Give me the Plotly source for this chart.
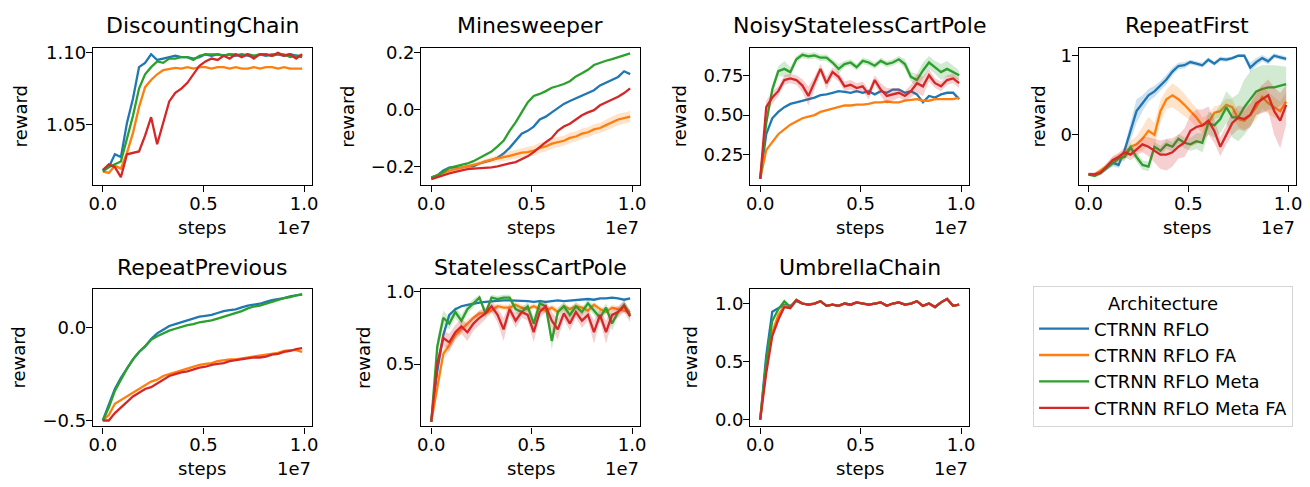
import plotly.graph_objects as go

# ---------------- data ----------------
STEPS = [0, 300000, 600000, 900000, 1200000, 1500000, 1800000, 2100000, 2400000,
         2700000, 3000000, 3300000, 3600000, 3900000, 4200000, 4500000, 4800000,
         5100000, 5400000, 5700000, 6000000, 6300000, 6600000, 6900000, 7200000,
         7500000, 7800000, 8100000, 8400000, 8700000, 9000000, 9300000, 9600000, 9900000]

SERIES_NAMES = ["CTRNN RFLO", "CTRNN RFLO FA", "CTRNN RFLO Meta", "CTRNN RFLO Meta FA"]
PANEL_TITLES = ["DiscountingChain", "Minesweeper", "NoisyStatelessCartPole", "RepeatFirst",
                "RepeatPrevious", "StatelessCartPole", "UmbrellaChain"]

# DiscountingChain
DC_BLUE = [1.018, 1.020, 1.029, 1.027, 1.051, 1.068, 1.090, 1.093, 1.099, 1.095, 1.096, 1.097,
           1.098, 1.097, 1.097, 1.096, 1.097, 1.099, 1.098, 1.099, 1.098, 1.099, 1.098, 1.099,
           1.098, 1.097, 1.099, 1.098, 1.099, 1.099, 1.098, 1.099, 1.098, 1.097]
DC_ORANGE = [1.017, 1.016, 1.021, 1.019, 1.030, 1.044, 1.062, 1.076, 1.081, 1.085, 1.088, 1.089,
             1.0895, 1.089, 1.090, 1.089, 1.090, 1.090, 1.089, 1.090, 1.090, 1.089, 1.090, 1.089,
             1.089, 1.090, 1.089, 1.090, 1.090, 1.089, 1.090, 1.089, 1.089, 1.089]
DC_GREEN = [1.017, 1.020, 1.022, 1.024, 1.040, 1.056, 1.075, 1.085, 1.090, 1.094, 1.093, 1.096,
            1.096, 1.097, 1.097, 1.095, 1.098, 1.099, 1.099, 1.099, 1.098, 1.099, 1.099, 1.098,
            1.099, 1.098, 1.099, 1.099, 1.098, 1.099, 1.099, 1.097, 1.098, 1.098]
DC_RED = [1.018, 1.022, 1.020, 1.013, 1.029, 1.030, 1.031, 1.042, 1.055, 1.036, 1.052, 1.066,
          1.072, 1.075, 1.079, 1.085, 1.091, 1.094, 1.096, 1.095, 1.098, 1.096, 1.099, 1.097,
          1.099, 1.096, 1.099, 1.099, 1.098, 1.100, 1.098, 1.099, 1.096, 1.099]

# Minesweeper
MS_BLUE = [-0.240, -0.232, -0.215, -0.205, -0.205, -0.205, -0.200, -0.200, -0.190, -0.185, -0.178,
           -0.170, -0.155, -0.135, -0.110, -0.085, -0.075, -0.060, -0.035, -0.025, -0.010, 0.005,
           0.020, 0.030, 0.040, 0.050, 0.060, 0.068, 0.085, 0.095, 0.105, 0.115, 0.135, 0.125]
MS_ORANGE = [-0.240, -0.232, -0.222, -0.215, -0.210, -0.205, -0.200, -0.195, -0.190, -0.182, -0.178,
             -0.172, -0.168, -0.163, -0.158, -0.152, -0.150, -0.145, -0.135, -0.130, -0.120, -0.115,
             -0.110, -0.100, -0.095, -0.085, -0.080, -0.070, -0.065, -0.055, -0.045, -0.035, -0.030, -0.025]
MS_ORANGE_SD = [0.004, 0.004, 0.005, 0.005, 0.005, 0.006, 0.006, 0.007, 0.008, 0.008, 0.010, 0.012,
                0.014, 0.016, 0.016, 0.017, 0.018, 0.018, 0.018, 0.018, 0.018, 0.018, 0.018, 0.018,
                0.018, 0.018, 0.018, 0.018, 0.018, 0.020, 0.020, 0.020, 0.020, 0.020]
MS_GREEN = [-0.240, -0.232, -0.220, -0.205, -0.200, -0.195, -0.190, -0.182, -0.170, -0.160, -0.148,
            -0.130, -0.110, -0.075, -0.045, -0.010, 0.025, 0.048, 0.055, 0.065, 0.077, 0.083,
            0.090, 0.100, 0.117, 0.128, 0.140, 0.157, 0.165, 0.172, 0.178, 0.185, 0.190, 0.198]
MS_RED = [-0.245, -0.238, -0.230, -0.225, -0.220, -0.215, -0.210, -0.208, -0.207, -0.205, -0.204,
          -0.200, -0.196, -0.190, -0.185, -0.175, -0.165, -0.150, -0.132, -0.115, -0.100, -0.075,
          -0.060, -0.050, -0.035, -0.020, -0.010, -0.002, 0.015, 0.025, 0.035, 0.045, 0.058, 0.075]

# NoisyStatelessCartPole
NSCP_BLUE = [0.10, 0.38, 0.48, 0.52, 0.55, 0.57, 0.58, 0.59, 0.60, 0.61, 0.625, 0.63, 0.64, 0.65,
             0.645, 0.64, 0.65, 0.64, 0.65, 0.63, 0.65, 0.64, 0.66, 0.66, 0.64, 0.65, 0.63, 0.58,
             0.62, 0.61, 0.63, 0.64, 0.64, 0.60]
NSCP_ORANGE = [0.10, 0.28, 0.33, 0.38, 0.41, 0.44, 0.46, 0.48, 0.49, 0.50, 0.52, 0.53, 0.54, 0.55,
               0.56, 0.56, 0.565, 0.565, 0.57, 0.58, 0.58, 0.585, 0.58, 0.58, 0.59, 0.595, 0.60,
               0.59, 0.59, 0.60, 0.60, 0.60, 0.60, 0.61]
NSCP_GREEN = [0.10, 0.45, 0.66, 0.776, 0.79, 0.77, 0.85, 0.878, 0.868, 0.875, 0.86, 0.86, 0.83, 0.79,
              0.82, 0.83, 0.80, 0.84, 0.83, 0.81, 0.84, 0.82, 0.83, 0.85, 0.82, 0.74, 0.72, 0.78,
              0.83, 0.80, 0.77, 0.79, 0.77, 0.75]
NSCP_GREEN_SD = [0.0, 0.03, 0.03, 0.03, 0.05, 0.03, 0.02, 0.02, 0.02, 0.02, 0.02, 0.02, 0.02, 0.03,
                 0.02, 0.02, 0.02, 0.02, 0.02, 0.02, 0.02, 0.02, 0.02, 0.02, 0.03, 0.03, 0.04, 0.05,
                 0.04, 0.04, 0.05, 0.05, 0.04, 0.03]
NSCP_RED = [0.10, 0.55, 0.61, 0.65, 0.72, 0.73, 0.72, 0.685, 0.62, 0.70, 0.79, 0.70, 0.77, 0.74,
            0.68, 0.69, 0.67, 0.68, 0.63, 0.72, 0.66, 0.62, 0.63, 0.64, 0.62, 0.65, 0.70, 0.68,
            0.75, 0.70, 0.68, 0.72, 0.73, 0.70]
NSCP_RED_SD = [0.0, 0.04, 0.04, 0.03, 0.03, 0.03, 0.03, 0.04, 0.06, 0.04, 0.03, 0.04, 0.03, 0.03,
               0.03, 0.03, 0.03, 0.03, 0.03, 0.03, 0.04, 0.05, 0.04, 0.03, 0.03, 0.04, 0.06, 0.06,
               0.04, 0.03, 0.03, 0.03, 0.03, 0.03]

# RepeatFirst
RF_BLUE = [-0.50, -0.50, -0.48, -0.42, -0.35, -0.38, -0.20, 0.05, 0.30, 0.40, 0.50, 0.55, 0.62, 0.70,
           0.80, 0.87, 0.88, 0.92, 0.90, 0.88, 0.95, 0.90, 0.96, 0.95, 0.97, 1.00, 1.00, 0.85, 0.92,
           0.97, 0.93, 1.00, 0.98, 0.96]
RF_BLUE_SD = [0.02, 0.02, 0.02, 0.03, 0.05, 0.04, 0.06, 0.12, 0.15, 0.10, 0.08, 0.07, 0.06, 0.06,
              0.05, 0.04, 0.04, 0.03, 0.03, 0.03, 0.03, 0.03, 0.03, 0.03, 0.02, 0.02, 0.02, 0.06,
              0.05, 0.04, 0.04, 0.03, 0.03, 0.03]
RF_ORANGE = [-0.50, -0.50, -0.45, -0.40, -0.33, -0.28, -0.25, -0.15, -0.12, -0.05, 0.05, 0.00, 0.30,
             0.45, 0.50, 0.45, 0.38, 0.30, 0.22, 0.12, 0.15, 0.28, 0.30, 0.38, 0.35, 0.20, 0.18,
             0.25, 0.35, 0.48, 0.40, 0.35, 0.30, 0.42]
RF_ORANGE_SD = [0.02, 0.02, 0.03, 0.04, 0.05, 0.05, 0.06, 0.08, 0.10, 0.15, 0.18, 0.15, 0.14, 0.12,
                0.15, 0.15, 0.14, 0.12, 0.12, 0.10, 0.10, 0.08, 0.08, 0.08, 0.10, 0.10, 0.12, 0.14,
                0.15, 0.15, 0.14, 0.13, 0.12, 0.12]
RF_GREEN = [-0.50, -0.52, -0.48, -0.42, -0.35, -0.30, -0.28, -0.16, -0.28, -0.38, -0.40, -0.15, -0.20,
            -0.12, -0.15, -0.05, -0.10, -0.12, -0.08, -0.10, 0.15, 0.12, 0.20, 0.35, 0.22, 0.22,
            0.35, 0.45, 0.55, 0.58, 0.60, 0.60, 0.62, 0.64]
RF_GREEN_SD = [0.02, 0.02, 0.03, 0.03, 0.04, 0.04, 0.05, 0.06, 0.06, 0.06, 0.06, 0.06, 0.06, 0.06,
               0.06, 0.06, 0.07, 0.08, 0.10, 0.12, 0.14, 0.15, 0.18, 0.20, 0.25, 0.30, 0.35, 0.35,
               0.30, 0.30, 0.28, 0.28, 0.25, 0.22]
RF_RED = [-0.50, -0.50, -0.48, -0.40, -0.32, -0.28, -0.22, -0.25, -0.18, -0.12, -0.15, -0.20, -0.25,
          -0.25, -0.22, -0.15, -0.10, 0.05, 0.10, 0.12, 0.18, 0.05, -0.15, 0.00, 0.15, 0.22, 0.20,
          0.25, 0.40, 0.45, 0.50, 0.30, 0.18, 0.38]
RF_RED_SD = [0.02, 0.02, 0.03, 0.04, 0.05, 0.05, 0.06, 0.07, 0.08, 0.10, 0.12, 0.15, 0.18, 0.20,
             0.18, 0.15, 0.18, 0.20, 0.22, 0.20, 0.18, 0.15, 0.12, 0.12, 0.15, 0.15, 0.15, 0.15,
             0.15, 0.18, 0.20, 0.30, 0.35, 0.25]

# RepeatPrevious
RP_BLUE = [-0.50, -0.42, -0.33, -0.27, -0.22, -0.17, -0.13, -0.10, -0.06, -0.03, -0.01, 0.01, 0.02,
           0.03, 0.04, 0.05, 0.06, 0.065, 0.07, 0.08, 0.09, 0.095, 0.10, 0.11, 0.12, 0.125, 0.13,
           0.14, 0.15, 0.155, 0.16, 0.17, 0.175, 0.18]
RP_ORANGE = [-0.50, -0.47, -0.41, -0.39, -0.37, -0.35, -0.33, -0.31, -0.29, -0.28, -0.26, -0.25,
             -0.24, -0.23, -0.22, -0.21, -0.20, -0.195, -0.19, -0.18, -0.175, -0.17, -0.17, -0.165,
             -0.16, -0.155, -0.15, -0.145, -0.14, -0.135, -0.125, -0.12, -0.12, -0.13]
RP_GREEN = [-0.50, -0.43, -0.34, -0.28, -0.22, -0.17, -0.13, -0.10, -0.065, -0.045, -0.03, -0.015,
            -0.005, 0.005, 0.015, 0.02, 0.03, 0.035, 0.04, 0.05, 0.06, 0.07, 0.08, 0.09, 0.105,
            0.115, 0.12, 0.13, 0.14, 0.15, 0.16, 0.165, 0.175, 0.18]
RP_RED = [-0.50, -0.50, -0.46, -0.43, -0.40, -0.37, -0.35, -0.33, -0.32, -0.30, -0.28, -0.26, -0.25,
          -0.24, -0.235, -0.225, -0.215, -0.21, -0.20, -0.195, -0.19, -0.18, -0.175, -0.17, -0.165,
          -0.16, -0.16, -0.155, -0.145, -0.14, -0.13, -0.125, -0.115, -0.11]

# StatelessCartPole
SCP_BLUE = [0.10, 0.45, 0.70, 0.84, 0.88, 0.90, 0.91, 0.92, 0.925, 0.93, 0.935, 0.935, 0.94, 0.94,
            0.94, 0.935, 0.935, 0.93, 0.935, 0.93, 0.935, 0.94, 0.935, 0.94, 0.945, 0.945, 0.95,
            0.945, 0.955, 0.955, 0.96, 0.955, 0.945, 0.955]
SCP_ORANGE = [0.10, 0.35, 0.57, 0.63, 0.70, 0.74, 0.78, 0.82, 0.85, 0.85, 0.87, 0.90, 0.89, 0.89,
              0.91, 0.89, 0.88, 0.90, 0.88, 0.87, 0.89, 0.86, 0.90, 0.88, 0.90, 0.89, 0.87, 0.91,
              0.88, 0.86, 0.89, 0.88, 0.87, 0.86]
SCP_ORANGE_SD = [0.0, 0.04, 0.04, 0.04, 0.03, 0.03, 0.03, 0.02, 0.02, 0.02, 0.02, 0.02, 0.02, 0.02,
                 0.02, 0.02, 0.02, 0.02, 0.02, 0.02, 0.02, 0.03, 0.02, 0.02, 0.02, 0.02, 0.02, 0.02,
                 0.02, 0.02, 0.02, 0.02, 0.02, 0.02]
SCP_GREEN = [0.10, 0.62, 0.82, 0.78, 0.86, 0.80, 0.88, 0.92, 0.96, 0.85, 0.96, 0.95, 0.96, 0.96,
             0.88, 0.86, 0.90, 0.78, 0.92, 0.90, 0.66, 0.86, 0.90, 0.84, 0.90, 0.86, 0.92, 0.87,
             0.82, 0.89, 0.78, 0.86, 0.91, 0.84]
SCP_GREEN_SD = [0.0, 0.06, 0.05, 0.04, 0.04, 0.04, 0.03, 0.03, 0.02, 0.03, 0.02, 0.02, 0.02, 0.02,
                0.03, 0.03, 0.03, 0.05, 0.03, 0.03, 0.06, 0.03, 0.03, 0.04, 0.03, 0.03, 0.03, 0.03,
                0.04, 0.03, 0.05, 0.03, 0.03, 0.03]
SCP_RED = [0.10, 0.50, 0.68, 0.65, 0.72, 0.76, 0.72, 0.78, 0.82, 0.85, 0.90, 0.84, 0.74, 0.88, 0.80,
           0.86, 0.84, 0.72, 0.86, 0.90, 0.80, 0.74, 0.85, 0.78, 0.86, 0.80, 0.84, 0.72, 0.84, 0.72,
           0.84, 0.86, 0.90, 0.83]
SCP_RED_SD = [0.0, 0.05, 0.05, 0.06, 0.05, 0.05, 0.06, 0.05, 0.05, 0.04, 0.04, 0.05, 0.08, 0.04,
              0.05, 0.04, 0.04, 0.07, 0.04, 0.04, 0.06, 0.07, 0.04, 0.05, 0.04, 0.05, 0.04, 0.08,
              0.04, 0.08, 0.05, 0.04, 0.04, 0.04]

# UmbrellaChain
UC_BLUE = [0.00, 0.55, 0.93, 0.96, 0.99, 0.98, 1.02, 1.00, 0.99, 1.00, 1.02, 0.98, 0.99, 0.98, 1.00,
           0.99, 1.01, 1.00, 0.99, 1.00, 1.01, 0.98, 1.00, 1.01, 0.99, 1.00, 1.02, 0.98, 1.00, 0.97,
           1.01, 1.04, 0.98, 0.99]
UC_ORANGE = [0.00, 0.45, 0.75, 0.90, 0.98, 0.97, 1.03, 1.00, 0.99, 1.00, 1.02, 0.98, 0.99, 0.98,
             1.00, 0.99, 1.01, 1.00, 0.99, 1.00, 1.01, 0.98, 1.00, 1.01, 0.99, 1.00, 1.02, 0.98,
             1.00, 0.97, 1.01, 1.04, 0.98, 0.99]
UC_GREEN = [0.00, 0.50, 0.85, 0.95, 1.02, 0.97, 1.03, 1.00, 0.99, 1.00, 1.02, 0.98, 0.99, 0.98,
            1.00, 0.99, 1.01, 1.00, 0.99, 1.00, 1.01, 0.98, 1.00, 1.01, 0.99, 1.00, 1.02, 0.98,
            1.00, 0.97, 1.01, 1.04, 0.98, 0.99]
UC_RED = [0.00, 0.40, 0.72, 0.86, 0.97, 0.96, 1.03, 1.00, 0.99, 1.00, 1.02, 0.98, 0.99, 0.98, 1.00,
          0.99, 1.01, 1.00, 0.99, 1.00, 1.01, 0.98, 1.00, 1.01, 0.99, 1.00, 1.02, 0.98, 1.00, 0.97,
          1.01, 1.04, 0.98, 0.99]

X_TICKS = [0, 5000000, 10000000]
X_TICK_TEXT = ["0.0", "0.5", "1.0"]

# ---------------- styling / layout constants ----------------
W, H = 1310, 487
COLORS = ["#1f77b4", "#ff7f0e", "#2ca02c", "#d62728"]
FILLS = ["rgba(31,119,180,0.22)", "rgba(255,127,14,0.22)", "rgba(44,160,44,0.22)", "rgba(214,39,40,0.22)"]
FONT = "DejaVu Sans"
COLS_PX = [(89.5, 310.5), (420.5, 641.0), (752.0, 972.5), (1083.0, 1302.0)]
ROWS_PX = [(41.0, 181.5), (288.0, 429.0)]
XRANGE = [-495000, 10395000]

panels = [
    dict(row=0, col=0, lines=[DC_BLUE, DC_ORANGE, DC_GREEN, DC_RED], sds=[None, None, None, None],
         yrange=[1.0075, 1.1034], tv=[1.05, 1.10], tt=["1.05", "1.10"], lab_x=17),
    dict(row=0, col=1, lines=[MS_BLUE, MS_ORANGE, MS_GREEN, MS_RED], sds=[None, MS_ORANGE_SD, None, None],
         yrange=[-0.266, 0.217], tv=[-0.2, 0.0, 0.2], tt=["\u22120.2", "0.0", "0.2"], lab_x=346),
    dict(row=0, col=2, lines=[NSCP_BLUE, NSCP_ORANGE, NSCP_GREEN, NSCP_RED],
         sds=[None, None, NSCP_GREEN_SD, NSCP_RED_SD],
         yrange=[0.061, 0.921], tv=[0.25, 0.5, 0.75], tt=["0.25", "0.50", "0.75"], lab_x=681),
    dict(row=0, col=3, lines=[RF_BLUE, RF_ORANGE, RF_GREEN, RF_RED],
         sds=[RF_BLUE_SD, RF_ORANGE_SD, RF_GREEN_SD, RF_RED_SD],
         yrange=[-0.634, 1.098], tv=[0, 1], tt=["0", "1"], lab_x=1042),
    dict(row=1, col=0, lines=[RP_BLUE, RP_ORANGE, RP_GREEN, RP_RED], sds=[None, None, None, None],
         yrange=[-0.532, 0.21], tv=[-0.5, 0.0], tt=["\u22120.5", "0.0"], lab_x=15),
    dict(row=1, col=1, lines=[SCP_BLUE, SCP_ORANGE, SCP_GREEN, SCP_RED],
         sds=[None, SCP_ORANGE_SD, SCP_GREEN_SD, SCP_RED_SD],
         yrange=[0.068, 1.02], tv=[0.5, 1.0], tt=["0.5", "1.0"], lab_x=362),
    dict(row=1, col=2, lines=[UC_BLUE, UC_ORANGE, UC_GREEN, UC_RED], sds=[None, None, None, None],
         yrange=[-0.059, 1.126], tv=[0.0, 0.5, 1.0], tt=["0.0", "0.5", "1.0"], lab_x=692),
]

fig = go.Figure()
annotations = []
TITLE_Y = [18, 266]
STEPS_Y = [225, 472]

for k, p in enumerate(panels):
    ax = "" if k == 0 else str(k + 1)
    xref, yref = "x" + ax, "y" + ax
    for s, (vals, sd) in enumerate(zip(p["lines"], p["sds"])):
        if sd is not None:
            upper = [v + d for v, d in zip(vals, sd)]
            lower = [v - d for v, d in zip(vals, sd)]
            fig.add_trace(go.Scatter(
                x=STEPS + STEPS[::-1], y=upper + lower[::-1], fill="toself",
                fillcolor=FILLS[s], line=dict(width=0), mode="lines",
                hoverinfo="skip", showlegend=False, legendgroup=SERIES_NAMES[s],
                xaxis=xref, yaxis=yref))
        fig.add_trace(go.Scatter(
            x=STEPS, y=vals, mode="lines", name=SERIES_NAMES[s],
            line=dict(color=COLORS[s], width=2.3), legendgroup=SERIES_NAMES[s],
            showlegend=(k == 0), xaxis=xref, yaxis=yref))

    x0, x1 = COLS_PX[p["col"]]
    y0, y1 = ROWS_PX[p["row"]]
    axis_common = dict(showline=True, mirror=True, linecolor="black", linewidth=1.2,
                       ticks="outside", ticklen=6, tickwidth=1.2, tickcolor="black",
                       showgrid=False, zeroline=False, ticklabelstandoff=-4,
                       tickfont=dict(family=FONT, size=18, color="black"))
    fig.layout["xaxis" + ax] = dict(domain=[x0 / W, x1 / W], range=XRANGE, anchor=yref,
                                    tickvals=X_TICKS, ticktext=X_TICK_TEXT, **axis_common)
    fig.layout["yaxis" + ax] = dict(domain=[1 - y1 / H, 1 - y0 / H], range=p["yrange"], anchor=xref,
                                    tickvals=p["tv"], ticktext=p["tt"], **axis_common)

    xc = (x0 + x1) / 2 / W
    annotations.append(dict(text=PANEL_TITLES[k], x=xc, y=1 - TITLE_Y[p["row"]] / H, xref="paper",
                            yref="paper", showarrow=False, xanchor="center", yanchor="middle",
                            font=dict(family=FONT, size=22, color="black")))
    annotations.append(dict(text="steps", x=xc, y=1 - STEPS_Y[p["row"]] / H, xref="paper",
                            yref="paper", showarrow=False, xanchor="center", yanchor="middle",
                            font=dict(family=FONT, size=18, color="black")))
    annotations.append(dict(text="1e7", x=(x1 + 1) / W, y=1 - STEPS_Y[p["row"]] / H, xref="paper",
                            yref="paper", showarrow=False, xanchor="right", yanchor="middle",
                            font=dict(family=FONT, size=18, color="black")))
    annotations.append(dict(text="reward", x=p["lab_x"] / W, y=1 - (y0 + y1) / 2 / H, xref="paper",
                            yref="paper", showarrow=False, xanchor="center", yanchor="middle",
                            textangle=-90, font=dict(family=FONT, size=18, color="black")))

fig.update_layout(
    width=W, height=H, margin=dict(l=0, r=0, t=0, b=0),
    paper_bgcolor="white", plot_bgcolor="white",
    font=dict(family=FONT, size=18, color="black"),
    annotations=annotations,
    legend=dict(x=1037 / W, y=1 - 285 / H, xanchor="left", yanchor="top",
                bordercolor="#d5d5d5", borderwidth=1, bgcolor="white",
                title=dict(text="Architecture", side="top center",
                           font=dict(family=FONT, size=18, color="black")),
                font=dict(family=FONT, size=18, color="black"),
                tracegroupgap=0, itemwidth=50),
    showlegend=True,
)

fig.write_html("out.html", config={"displayModeBar": False},
               post_script="document.body.style.margin='0';document.body.style.overflow='hidden';")
